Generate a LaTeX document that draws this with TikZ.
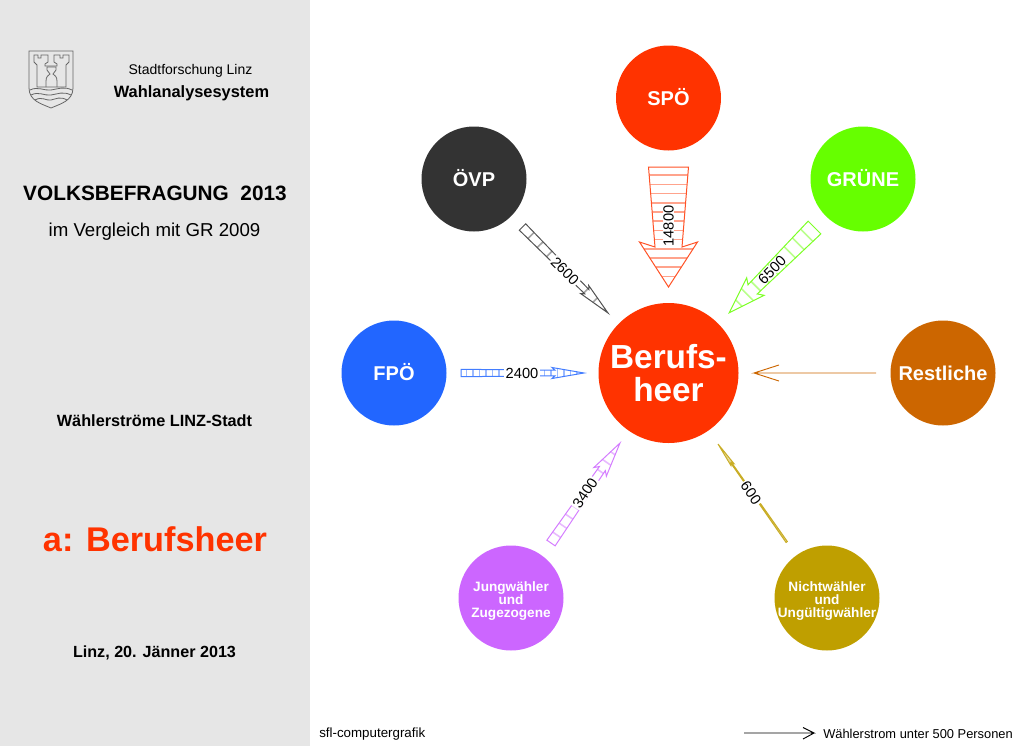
\documentclass[tikz,border=0pt]{standalone}
\usepackage{fontspec}
\setmainfont{Liberation Sans}
\usepackage{tikz}
\usetikzlibrary{calc}
\definecolor{spoered}{HTML}{FF3300}
\definecolor{oevpgray}{HTML}{333333}
\definecolor{gruenegreen}{HTML}{66FF00}
\definecolor{fpoeblue}{HTML}{2266FF}
\definecolor{restbrown}{HTML}{CC6600}
\definecolor{jungviolet}{HTML}{CC66FF}
\definecolor{nichtgold}{HTML}{BF9F00}
\definecolor{panelgray}{HTML}{E6E6E6}
\tikzstyle{party}=[circle,draw=none,minimum size=78.75pt,inner sep=0pt,text=white,align=center,font=\bfseries\fontsize{15}{18}\selectfont]
\tikzstyle{lifted}=[execute at end node={\rule[-2pt]{0pt}{2pt}}]
\tikzstyle{smalltext}=[inner sep=0pt,text=white,align=center,yshift=-2pt,font=\bfseries\fontsize{10.2}{9.8}\selectfont]
\tikzstyle{target}=[party,minimum size=105pt,execute at begin node={\rule{0pt}{20pt}},font=\bfseries\fontsize{25}{24.6}\selectfont]
\tikzstyle{paneltext}=[align=center,text=black]
\tikzstyle{flowlabel}=[fill=white,inner xsep=1pt,inner ysep=0pt,font=\fontsize{11}{11}\selectfont]
\tikzstyle{crest}=[draw=black!60,line width=0.6pt]
% colour, tail, tip, half width at tail, half width at head, barb, head length, notch, rung step
\newcommand{\flowarrow}[9]{
  \path let \p1=($(#3)-(#2)$),\n1={veclen(\x1,\y1)},\n2={atan2(\y1,\x1)} in
    \pgfextra{\pgfmathsetmacro\flowlen{\n1/0.75}\global\let\flowlen\flowlen
              \pgfmathsetmacro\flowang{\n2}\global\let\flowang\flowang};
  \begin{scope}[shift={(#2)},rotate=\flowang,x=0.75pt,y=0.75pt]
    \pgfmathsetmacro\flowneck{\flowlen-#7+#8}
    \pgfmathsetmacro\flowrungs{int((\flowlen-3)/#9)}
    \foreach \r in {1,...,\flowrungs}{
      \pgfmathsetmacro\d{\r*#9-1}
      \pgfmathsetmacro\w{\d<\flowneck ? #4+(#5-#4)*\d/\flowneck : #6*(\flowlen-\d)/#7}
      \draw[#1!45,line width=1.2pt] (\d,-\w) -- (\d,\w);
    }
    \draw[#1!85,line width=0.75pt,line join=miter] (0,#4) -- (\flowneck,#5) -- ({\flowlen-#7},#6) -- (\flowlen,0)
      -- ({\flowlen-#7},-#6) -- (\flowneck,-#5) -- (0,-#4) -- cycle;
  \end{scope}
}
\begin{document}
\begin{tikzpicture}[x=0.75pt,y=-0.75pt]
  \useasboundingbox (0,0) rectangle (1024,746);
  \fill[panelgray] (0,0) rectangle (310,746);

  % crest
  \draw[crest] (29,51) -- (73,51) -- (73,88) .. controls (73,101) and (60,104) .. (51,108)
     .. controls (42,104) and (29,101) .. (29,88) -- cycle;
  \draw[crest] (34,55) -- (38,55) -- (38,58) -- (41,58) -- (41,55) -- (48,55) -- (48,62) -- (45,64) -- (45,66)
     -- (57,66) -- (57,64) -- (54,62) -- (54,55) -- (60,55) -- (60,58) -- (63,58) -- (63,55) -- (69,55)
     -- (69,62) -- (66,65) -- (66,87) -- (37,87) -- (37,65) -- (34,62) -- cycle;
  \draw[crest] (46,87) -- (46,81) .. controls (46,77) and (48,75) .. (50,74) -- (47,70) -- (47,67) -- (56,67)
     -- (56,70) -- (53,74) .. controls (55,75) and (57,77) .. (57,81) -- (57,87);
  \draw[crest] (30,90) .. controls (38,86) and (44,91) .. (51,90) .. controls (58,89) and (64,86) .. (72,90);
  \draw[crest] (31,95) .. controls (39,91) and (44,96) .. (51,95) .. controls (58,94) and (63,91) .. (71,95);
  \draw[crest] (35,100) .. controls (42,96) and (46,101) .. (51,100) .. controls (56,99) and (60,96) .. (67,100);

  \node[paneltext,font=\fontsize{10.5}{12}\selectfont] (institute) at (190.5,71) {Stadtforschung Linz};
  \node[paneltext,font=\bfseries\fontsize{12.3}{14}\selectfont] (system) at (191.5,93) {Wahlanalysesystem};
  \node[paneltext,font=\bfseries\fontsize{15.6}{18}\selectfont] (title) at (155,193) {VOLKSBEFRAGUNG\ \ 2013};
  \node[paneltext,font=\fontsize{14}{16}\selectfont] (subtitle) at (154.5,232) {im Vergleich mit GR 2009};
  \node[paneltext,font=\bfseries\fontsize{12.2}{14}\selectfont] (streams) at (154.5,421) {Wählerströme LINZ-Stadt};
  \node[paneltext,text=spoered,font=\bfseries\fontsize{25.7}{30}\selectfont] (topic) at (155,539) {a: Berufsheer};
  \node[paneltext,font=\bfseries\fontsize{12.1}{14}\selectfont] (date) at (154.5,653) {Linz, 20. Jänner 2013};

  \node[target,fill=spoered] (heer) at (668.5,373) {Berufs-\\heer};
  \node[party,lifted,fill=spoered] (spoe) at (668.5,98) {SPÖ};
  \node[party,lifted,fill=oevpgray] (oevp) at (474,179) {ÖVP};
  \node[party,lifted,fill=gruenegreen] (gruene) at (863,179) {GRÜNE};
  \node[party,lifted,fill=fpoeblue] (fpoe) at (394,373) {FPÖ};
  \node[party,fill=restbrown] (rest) at (943,373) {Restliche};
  \node[party,fill=jungviolet] (jung) at (511,598) {};
  \node[party,fill=nichtgold] (nicht) at (827,598) {};
  \node[smalltext] (jung-t) at (jung) {Jungwähler\\und\\Zugezogene};
  \node[smalltext] (nicht-t) at (nicht) {Nichtwähler\\und\\Ungültigwähler};

  \coordinate (spoe-a) at (668.5,167);   \coordinate (spoe-b) at (668.5,287);
  \coordinate (oevp-a) at (522.5,227);   \coordinate (oevp-b) at (608,313);
  \coordinate (gruene-a) at (814.5,227.5); \coordinate (gruene-b) at (729,313);
  \coordinate (fpoe-a) at (461,373);     \coordinate (fpoe-b) at (584,373);
  \coordinate (jung-a) at (551,543);     \coordinate (jung-b) at (620,443);
  \coordinate (nicht-a) at (786.7,542);  \coordinate (nicht-b) at (718,444);
  \coordinate (rest-a) at (876,373);     \coordinate (rest-b) at (754,373);
  \coordinate (rest-c) at (779,365);     \coordinate (rest-d) at (779,381);
  \coordinate (key-a) at (744,733);      \coordinate (key-b) at (814,733);
  \coordinate (key-c) at (803,727.5);    \coordinate (key-d) at (803,739);

  \flowarrow{spoered}{spoe-a}{spoe-b}{20}{13.5}{29}{45}{5}{9.2}
  \flowarrow{oevpgray}{oevp-a}{oevp-b}{4.5}{3}{5.7}{33}{3}{13}
  \flowarrow{gruenegreen}{gruene-a}{gruene-b}{9}{6.5}{12.4}{37}{4}{12}
  \flowarrow{fpoeblue}{fpoe-a}{fpoe-b}{3.7}{2.8}{5.5}{32}{3}{6.5}
  \flowarrow{jungviolet}{jung-a}{jung-b}{5}{3.6}{7.6}{35}{4}{11}
  \flowarrow{nichtgold}{nicht-a}{nicht-b}{0.8}{0.5}{1.8}{25}{2}{2}

  \node[flowlabel,rotate=90] (spoe-l) at (668.5,226) {14800};
  \node[flowlabel,rotate=-45] (oevp-l) at (565,271) {2600};
  \node[flowlabel,rotate=45] (gruene-l) at (772,270) {6500};
  \node[flowlabel] (fpoe-l) at (522,373) {2400};
  \node[flowlabel,rotate=56] (jung-l) at (585,493) {3400};
  \node[flowlabel,rotate=-55] (nicht-l) at (751,493) {600};

  \draw[restbrown,line width=0.7pt] (rest-a) -- (rest-b) -- (rest-c) (rest-b) -- (rest-d);
  \draw[black,line width=0.7pt] (key-a) -- (key-b) -- (key-c) (key-b) -- (key-d);

  \node[anchor=west,inner sep=0pt,font=\fontsize{10}{12}\selectfont] (credit) at (319,734) {sfl-computergrafik};
  \node[anchor=west,inner sep=0pt,font=\fontsize{9.65}{12}\selectfont] (key) at (823,734) {Wählerstrom unter 500 Personen};
\end{tikzpicture}
\end{document}
